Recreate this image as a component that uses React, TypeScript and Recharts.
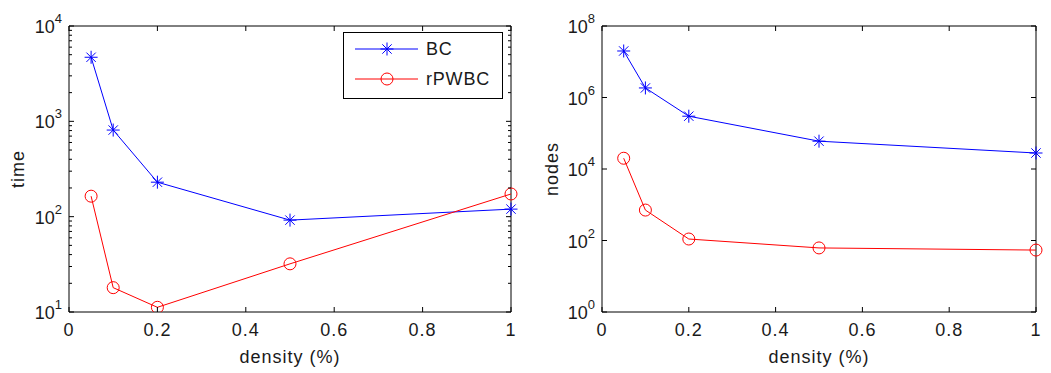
import { LineChart, Line, XAxis, YAxis, Legend, ReferenceArea } from "recharts";

const densities = [0.05, 0.1, 0.2, 0.5, 1];
const bcTime = [4700, 810, 230, 92, 120];
const rpwbcTime = [164, 18, 11.2, 32, 173];
const bcNodes = [2e7, 1.85e6, 3e5, 6e4, 2.8e4];
const rpwbcNodes = [2e4, 710, 110, 62, 54];
const xTicks = [0, 0.2, 0.4, 0.6, 0.8, 1];
const timeDecades = [10, 100, 1000, 10000];
const nodeDecades = [1, 100, 1e4, 1e6, 1e8];
const seriesNames = ["BC", "rPWBC"];

const FONT = "'Liberation Sans', Arial, sans-serif";
const BLUE = "#0000ff";
const RED = "#ff0000";
const INK = "#1a1a1a";

// values are plotted as log10 on a linear axis, labels show 10^n
const lg = (v: number) => Math.log10(v);

const timeData = densities.map((d, i) => ({ d, bc: lg(bcTime[i]), rp: lg(rpwbcTime[i]) }));
const nodeData = densities.map((d, i) => ({ d, bc: lg(bcNodes[i]), rp: lg(rpwbcNodes[i]) }));

// minor ticks 2..9 inside each decade (time plot only)
const timeTicks: number[] = [];
timeDecades.forEach((t, i) => {
  timeTicks.push(lg(t));
  if (i < timeDecades.length - 1) for (let k = 2; k < 10; k++) timeTicks.push(lg(t * k));
});
const nodeTicks = nodeDecades.map(lg);

function Star(props: any) {
  const { cx, cy, stroke } = props;
  if (cx == null || cy == null) return null;
  const r = 6.5;
  const d = r * 0.72;
  return (
    <g stroke={stroke} strokeWidth={1}>
      <line x1={cx - r} y1={cy} x2={cx + r} y2={cy} />
      <line x1={cx} y1={cy - r} x2={cx} y2={cy + r} />
      <line x1={cx - d} y1={cy - d} x2={cx + d} y2={cy + d} />
      <line x1={cx - d} y1={cy + d} x2={cx + d} y2={cy - d} />
    </g>
  );
}

function Ring(props: any) {
  const { cx, cy, stroke } = props;
  if (cx == null || cy == null) return null;
  return <circle cx={cx} cy={cy} r={6} fill="none" stroke={stroke} strokeWidth={1} />;
}

interface Frame {
  left: number;
  right: number;
  top: number;
  bottom: number;
}

function makeYTick(f: Frame) {
  return (props: any) => {
    const { y, payload } = props;
    const v = payload.value as number;
    const exp = Math.round(v);
    const major = Math.abs(exp - v) < 1e-6;
    const len = major ? 5 : 3;
    return (
      <g>
        <line x1={f.left} y1={y} x2={f.left + len} y2={y} stroke="#000" />
        <line x1={f.right - len} y1={y} x2={f.right} y2={y} stroke="#000" />
        {major && (
          <text x={f.left - 7} y={y + 7} textAnchor="end" fontFamily={FONT} fontSize={18} fill={INK}>
            10
            <tspan dy={-10} fontSize={13}>
              {exp}
            </tspan>
          </text>
        )}
      </g>
    );
  };
}

function makeXTick(f: Frame) {
  return (props: any) => {
    const { x, payload } = props;
    return (
      <g>
        <line x1={x} y1={f.bottom} x2={x} y2={f.bottom - 5} stroke="#000" />
        <line x1={x} y1={f.top} x2={x} y2={f.top + 5} stroke="#000" />
        <text x={x} y={f.bottom + 24} textAnchor="middle" fontFamily={FONT} fontSize={18} letterSpacing={1} fill={INK}>
          {payload.value}
        </text>
      </g>
    );
  };
}

function titles(f: Frame, yTitle: string, yx: number) {
  const cx = (f.left + f.right) / 2;
  const cy = (f.top + f.bottom) / 2;
  return {
    x: (
      <text x={cx} y={f.bottom + 51} textAnchor="middle" fontFamily={FONT} fontSize={18} letterSpacing={1} fill={INK}>
        density (%)
      </text>
    ),
    y: (
      <text
        x={yx}
        y={cy}
        textAnchor="middle"
        dominantBaseline="central"
        transform={`rotate(-90 ${yx} ${cy})`}
        fontFamily={FONT}
        fontSize={18}
        letterSpacing={1}
        fill={INK}
      >
        {yTitle}
      </text>
    ),
  };
}

function LegendBox() {
  const rows = [
    { name: seriesNames[0], color: BLUE, Mark: Star, y: 17 },
    { name: seriesNames[1], color: RED, Mark: Ring, y: 47 },
  ];
  return (
    <svg width={160} height={67} style={{ display: "block" }}>
      <rect x={0.5} y={0.5} width={159} height={66} fill="#fff" stroke="#000" />
      {rows.map((r) => (
        <g key={r.name}>
          <line x1={12} y1={r.y} x2={75} y2={r.y} stroke={r.color} />
          <r.Mark cx={44} cy={r.y} stroke={r.color} />
          <text x={83} y={r.y + 6} fontFamily={FONT} fontSize={18} letterSpacing={0.8} fill={INK}>
            {r.name}
          </text>
        </g>
      ))}
    </svg>
  );
}

function LeftChart() {
  const W = 525;
  const f: Frame = { left: 69, right: 511, top: 26, bottom: 312 };
  const t = titles(f, "time", 18);
  return (
    <LineChart
      width={W}
      height={373}
      data={timeData}
      margin={{ top: f.top, right: W - f.right, bottom: 373 - f.bottom - 40, left: f.left - 60 }}
    >
      <XAxis
        dataKey="d"
        type="number"
        domain={[0, 1]}
        ticks={xTicks}
        height={40}
        axisLine={false}
        tickLine={false}
        tick={makeXTick(f)}
        label={{ content: () => t.x }}
      />
      <YAxis
        type="number"
        domain={[1, 4]}
        allowDataOverflow
        ticks={timeTicks}
        interval={0}
        width={60}
        axisLine={false}
        tickLine={false}
        tick={makeYTick(f)}
        label={{ content: () => t.y }}
      />
      <ReferenceArea x1={0} x2={1} y1={1} y2={4} fill="none" stroke="#000" strokeWidth={1} ifOverflow="visible" />
      <Line dataKey="bc" name={seriesNames[0]} stroke={BLUE} strokeWidth={1} dot={<Star />} isAnimationActive={false} />
      <Line dataKey="rp" name={seriesNames[1]} stroke={RED} strokeWidth={1} dot={<Ring />} isAnimationActive={false} />
      <Legend
        layout="horizontal"
        verticalAlign="middle"
        align="center"
        content={() => <LegendBox />}
        wrapperStyle={{ position: "absolute", left: 343, top: 32, width: 160, height: 67 }}
      />
    </LineChart>
  );
}

function RightChart() {
  const X0 = 525;
  const W = 526;
  const f: Frame = { left: 602 - X0, right: 1036 - X0, top: 26, bottom: 312 };
  const t = titles(f, "nodes", 552 - X0);
  return (
    <LineChart
      width={W}
      height={373}
      data={nodeData}
      margin={{ top: f.top, right: W - f.right, bottom: 373 - f.bottom - 40, left: f.left - 60 }}
    >
      <XAxis
        dataKey="d"
        type="number"
        domain={[0, 1]}
        ticks={xTicks}
        height={40}
        axisLine={false}
        tickLine={false}
        tick={makeXTick(f)}
        label={{ content: () => t.x }}
      />
      <YAxis
        type="number"
        domain={[0, 8]}
        allowDataOverflow
        ticks={nodeTicks}
        interval={0}
        width={60}
        axisLine={false}
        tickLine={false}
        tick={makeYTick(f)}
        label={{ content: () => t.y }}
      />
      <ReferenceArea x1={0} x2={1} y1={0} y2={8} fill="none" stroke="#000" strokeWidth={1} ifOverflow="visible" />
      <Line dataKey="bc" name={seriesNames[0]} stroke={BLUE} strokeWidth={1} dot={<Star />} isAnimationActive={false} />
      <Line dataKey="rp" name={seriesNames[1]} stroke={RED} strokeWidth={1} dot={<Ring />} isAnimationActive={false} />
    </LineChart>
  );
}

export default function App() {
  return (
    <div style={{ position: "absolute", left: 0, top: 0, width: 1051, height: 373, background: "#fff" }}>
      <div style={{ position: "absolute", left: 0, top: 0 }}>
        <LeftChart />
      </div>
      <div style={{ position: "absolute", left: 525, top: 0 }}>
        <RightChart />
      </div>
    </div>
  );
}
